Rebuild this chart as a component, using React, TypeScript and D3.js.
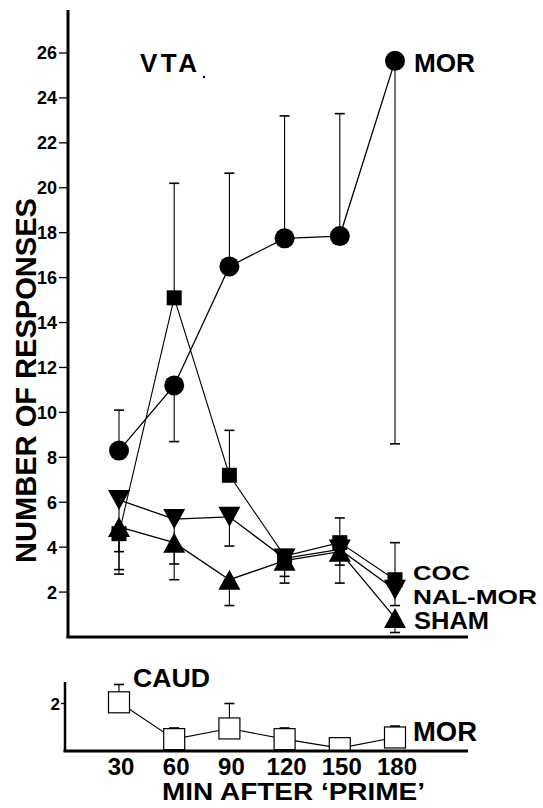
import React from "react";
import * as d3 from "d3";

// ---- data ----
const times = [30, 60, 90, 120, 150, 180];
const yTicksVta = [2, 4, 6, 8, 10, 12, 14, 16, 18, 20, 22, 24, 26];
const yTicksCaud = [2];

const morVta = [8.3, 11.2, 16.5, 17.75, 17.85, 25.65];
const morVtaErr = [10.1, 8.7, 20.65, 23.2, 23.3, 8.6];
const cocVta = [4.6, 15.1, 7.2, 3.6, 4.2, 2.55];
const cocVtaErr = [2.8, 20.2, 9.2, 2.7, 5.3, 4.2];
const nalMorVta = [6.1, 5.25, 5.35, 3.5, 3.9, 2.1];
const nalMorVtaErr = [3.8, 3.25, 4.05, null, 3.2, 1.4];
const shamVta = [4.9, 4.2, 2.55, 3.4, 3.8, 0.85];
const shamVtaErr = [3.0, 2.55, 1.4, 2.4, 2.4, 0.2];

const morCaud = [2.05, 0.5, 0.95, 0.5, 0.12, 0.57];
const morCaudErr = [2.8, 0.97, 2.0, 0.97, null, 1.05];

const FONT = "'Liberation Sans', Arial, Helvetica, sans-serif";

const x = d3.scaleLinear().domain([30, 180]).range([119, 395]);
const yV = d3.scaleLinear().domain([0, 26]).range([637, 53]);
const yC = d3.scaleLinear().domain([0, 2]).range([751, 703.5]);

type Marker = "circle" | "square" | "down" | "up" | "open";

function markerPath(kind: Marker, cx: number, cy: number): React.ReactNode {
  if (kind === "circle") return <circle cx={cx} cy={cy} r={10} fill="#000" />;
  if (kind === "square") return <rect x={cx - 7.5} y={cy - 7.5} width={15} height={15} fill="#000" />;
  if (kind === "open")
    return <rect x={cx - 10.5} y={cy - 10.5} width={21} height={21} fill="#fff" stroke="#000" strokeWidth={1.2} />;
  const w = 11, h = 10;
  if (kind === "down")
    return <path d={`M${cx - w},${cy - h}L${cx + w},${cy - h}L${cx},${cy + h}Z`} fill="#000" />;
  return <path d={`M${cx - w},${cy + h}L${cx + w},${cy + h}L${cx},${cy - h}Z`} fill="#000" />;
}

function Series({ vals, errs, kind, y, lineW = 1.3 }: { vals: number[]; errs: (number | null)[]; kind: Marker; y: d3.ScaleLinear<number, number>; lineW?: number }) {
  const line = d3.line<number>().x((_, i) => x(times[i])).y((d) => y(d));
  return (
    <g>
      {errs.map((e, i) =>
        e == null ? null : (
          <g key={i} stroke="#000" strokeWidth={1.1}>
            <line x1={x(times[i])} x2={x(times[i])} y1={y(vals[i])} y2={y(e)} />
            <line x1={x(times[i]) - 5} x2={x(times[i]) + 5} y1={y(e)} y2={y(e)} strokeWidth={1.6} />
          </g>
        )
      )}
      <path d={line(vals) || ""} fill="none" stroke="#000" strokeWidth={lineW} />
      {vals.map((v, i) => (
        <g key={i}>{markerPath(kind, x(times[i]), y(v))}</g>
      ))}
    </g>
  );
}

export default function App() {
  return (
    <div style={{ position: "absolute", left: 0, top: 0 }}>
      <svg width={543} height={808} style={{ display: "block", background: "#fff" }}>
        <defs>
          <clipPath id="caudClip">
            <rect x={0} y={0} width={543} height={751} />
          </clipPath>
        </defs>
        {/* main panel axes */}
        <line x1={68} x2={68} y1={10} y2={638} stroke="#000" strokeWidth={3} />
        <line x1={66.5} x2={468} y1={637} y2={637} stroke="#000" strokeWidth={3} />
        {yTicksVta.map((t) => (
          <g key={t}>
            <line x1={59} x2={68} y1={yV(t)} y2={yV(t)} stroke="#000" strokeWidth={1.3} />
            <text x={57} y={yV(t)} dy="0.36em" textAnchor="end" fontFamily={FONT} fontWeight="bold" fontSize={18}>
              {t}
            </text>
          </g>
        ))}
        <text
          transform={`translate(36,380.5) rotate(-90)`}
          textAnchor="middle"
          fontFamily={FONT}
          fontWeight="bold"
          fontSize={29}
          textLength={365}
          lengthAdjust="spacingAndGlyphs"
        >
          NUMBER OF RESPONSES
        </text>
        <text x={140} y={72} fontFamily={FONT} fontWeight="bold" fontSize={26} textLength={57} lengthAdjust="spacing">
          VTA
        </text>
        <circle cx={204} cy={77} r={1.2} fill="#000" />

        <Series vals={cocVta} errs={cocVtaErr} kind="square" y={yV} lineW={1.1} />
        <Series vals={nalMorVta} errs={nalMorVtaErr} kind="down" y={yV} />
        <Series vals={shamVta} errs={shamVtaErr} kind="up" y={yV} />
        <Series vals={morVta} errs={morVtaErr} kind="circle" y={yV} />

        <text x={414} y={72} fontFamily={FONT} fontWeight="bold" fontSize={26} textLength={61} lengthAdjust="spacingAndGlyphs">
          MOR
        </text>
        <text x={413} y={580} fontFamily={FONT} fontWeight="bold" fontSize={21} textLength={57} lengthAdjust="spacingAndGlyphs">
          COC
        </text>
        <text x={413} y={604} fontFamily={FONT} fontWeight="bold" fontSize={21} textLength={124} lengthAdjust="spacingAndGlyphs">
          NAL-MOR
        </text>
        <text x={414} y={629} fontFamily={FONT} fontWeight="bold" fontSize={23} textLength={75} lengthAdjust="spacingAndGlyphs">
          SHAM
        </text>

        {/* CAUD panel */}
        <text x={133} y={687} fontFamily={FONT} fontWeight="bold" fontSize={25} textLength={77} lengthAdjust="spacingAndGlyphs">
          CAUD
        </text>
        <g clipPath="url(#caudClip)">
          <Series vals={morCaud} errs={morCaudErr} kind="open" y={yC} lineW={1.1} />
        </g>
        <line x1={65} x2={65} y1={682} y2={752} stroke="#000" strokeWidth={2.5} />
        <line x1={63.5} x2={468} y1={751} y2={751} stroke="#000" strokeWidth={3} />
        {yTicksCaud.map((t) => (
          <g key={t}>
            <line x1={61} x2={65} y1={yC(t)} y2={yC(t)} stroke="#000" strokeWidth={1.3} />
            <text x={60} y={yC(t)} dy="0.36em" textAnchor="end" fontFamily={FONT} fontWeight="bold" fontSize={17}>
              {t}
            </text>
          </g>
        ))}
        <text x={413} y={741} fontFamily={FONT} fontWeight="bold" fontSize={27} textLength={64} lengthAdjust="spacingAndGlyphs">
          MOR
        </text>
        {times.map((t) => (
          <text key={t} x={x(t) + 2} y={775} textAnchor="middle" fontFamily={FONT} fontWeight="bold" fontSize={24}>
            {t}
          </text>
        ))}
        <text x={162} y={800} fontFamily={FONT} fontWeight="bold" fontSize={24} textLength={263} lengthAdjust="spacingAndGlyphs">
          MIN AFTER ‘PRIME’
        </text>
      </svg>
    </div>
  );
}
